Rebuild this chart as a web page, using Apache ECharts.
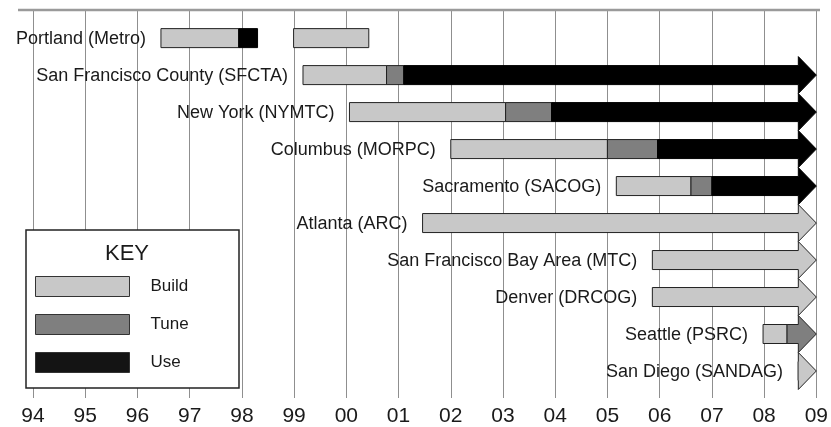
<!DOCTYPE html>
<html>
<head>
<meta charset="utf-8">
<script src="https://cdn.jsdelivr.net/npm/echarts@6/dist/echarts.min.js"></script>
<style>
html,body{margin:0;padding:0;background:#fff;}
#main{width:831px;height:427px;}
</style>
</head>
<body>
<div id="main"></div>
<script>
// rows, top to bottom
var categories = ['Portland (Metro)', 'San Francisco County (SFCTA)', 'New York (NYMTC)',
    'Columbus (MORPC)', 'Sacramento (SACOG)', 'Atlanta (ARC)', 'San Francisco Bay Area (MTC)',
    'Denver (DRCOG)', 'Seattle (PSRC)', 'San Diego (SANDAG)'];
var tickLabels = ['94','95','96','97','98','99','00','01','02','03','04','05','06','07','08','09'];
var yearMin = 1994, yearMax = 2009;
// [row, start year, end year]; a segment that ends at yearMax is still going (arrow)
var buildSegments = [[0,1996.45,1997.94],[0,1998.99,2000.43],[1,1999.17,2000.77],[2,2000.06,2003.05],
    [3,2002.0,2005.0],[4,2005.17,2006.6],[5,2001.46,2009],[6,2005.86,2009],[7,2005.86,2009],
    [8,2007.98,2008.44],[9,2008.65,2009]];
var tuneSegments = [[1,2000.77,2001.1],[2,2003.05,2003.93],[3,2005.0,2005.96],[4,2006.6,2007.0],[8,2008.44,2009]];
var useSegments = [[0,1997.94,1998.3],[1,2001.1,2009],[2,2003.93,2009],[3,2005.96,2009],[4,2007.0,2009]];

var rowStart = categories.map(function(c, i){
    var m = Infinity;
    buildSegments.forEach(function(s){ if (s[0] === i && s[1] < m) m = s[1]; });
    return m;
});

var FONT = '"Liberation Sans", Arial, sans-serif';

function makeRender(fill, stroke, withLabels){
    return function(params, api){
        var row = api.value(0), s = api.value(1), e = api.value(2);
        var p0 = api.coord([s, row]), p1 = api.coord([e, row]);
        var y = p0[1], h = 19, half = h / 2;
        var children = [];
        var style = {fill: fill, stroke: stroke, lineWidth: 1};
        if (e >= yearMax) {
            var tip = p1[0], base = tip - 18, head = 18.5;
            var x0 = Math.min(p0[0], base);
            children.push({
                type: 'polygon',
                shape: {points: [[x0, y - half], [base, y - half], [base, y - head], [tip, y],
                                 [base, y + head], [base, y + half], [x0, y + half]]},
                style: style
            });
        } else {
            children.push({
                type: 'rect',
                shape: {x: p0[0], y: y - half, width: p1[0] - p0[0], height: h},
                style: style
            });
        }
        if (withLabels && s === rowStart[row]) {
            children.push({
                type: 'text',
                style: {text: categories[row], x: p0[0] - 15, y: y + 1, align: 'right',
                        verticalAlign: 'middle', fontSize: 18, fontFamily: FONT, fill: '#1a1a1a'}
            });
        }
        return {type: 'group', children: children};
    };
}

var chart = echarts.init(document.getElementById('main'));
var option = {
    animation: false,
    backgroundColor: '#fff',
    grid: {left: 33, right: 14, top: 10, bottom: 29},
    xAxis: {
        type: 'value', min: yearMin, max: yearMax, interval: 1,
        axisLine: {show: false},
        axisTick: {show: false},
        splitLine: {show: true, lineStyle: {color: '#8f8f8f', width: 1}},
        axisLabel: {
            margin: 8, fontSize: 21, fontFamily: FONT, color: '#1a1a1a',
            formatter: function(v){ return tickLabels[Math.round(v - yearMin)]; }
        }
    },
    yAxis: {type: 'value', min: -0.76, max: 9.73, inverse: true, show: false},
    legend: {
        orient: 'vertical', left: 35, top: 276, z: 20, padding: 0,
        itemWidth: 94, itemHeight: 20, itemGap: 17, icon: 'rect',
        textStyle: {fontSize: 17, fontFamily: FONT, color: '#1a1a1a', padding: [0, 0, 0, 16]},
        selectedMode: false,
        data: [
            {name: 'Build', itemStyle: {color: '#c8c8c8', borderColor: '#333', borderWidth: 1}},
            {name: 'Tune', itemStyle: {color: '#7f7f7f', borderColor: '#333', borderWidth: 1}},
            {name: 'Use', itemStyle: {color: '#141414', borderColor: '#333', borderWidth: 1}}
        ]
    },
    graphic: [
        {type: 'line', z: 10, shape: {x1: 18, y1: 10, x2: 820, y2: 10},
         style: {stroke: '#9a9a9a', lineWidth: 2.5}},
        {type: 'rect', z: 15, shape: {x: 26, y: 230, width: 213, height: 158},
         style: {fill: '#fff', stroke: '#222', lineWidth: 1.5}},
        {type: 'text', z: 16, style: {text: 'KEY', x: 127, y: 254, align: 'center', verticalAlign: 'middle',
         fontSize: 22, fontFamily: FONT, fill: '#1a1a1a'}}
    ],
    series: [
        {name: 'Build', type: 'custom', clip: false, renderItem: makeRender('#c8c8c8', '#222', true),
         itemStyle: {color: '#c8c8c8'}, encode: {x: [1, 2], y: 0}, data: buildSegments},
        {name: 'Tune', type: 'custom', clip: false, renderItem: makeRender('#7f7f7f', '#222', false),
         itemStyle: {color: '#7f7f7f'}, encode: {x: [1, 2], y: 0}, data: tuneSegments},
        {name: 'Use', type: 'custom', clip: false, renderItem: makeRender('#000', '#000', false),
         itemStyle: {color: '#000'}, encode: {x: [1, 2], y: 0}, data: useSegments}
    ]
};
chart.setOption(option);
</script>
</body>
</html>
